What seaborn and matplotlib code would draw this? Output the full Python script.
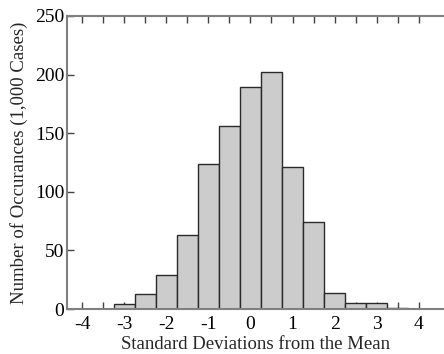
import numpy as np
import pandas as pd
import matplotlib
matplotlib.use("Agg")
import matplotlib.pyplot as plt
import seaborn as sns

# Histogram of 1,000 cases, binned in half standard deviations
bin_centers = [-3.0, -2.5, -2.0, -1.5, -1.0, -0.5, 0.0, 0.5, 1.0, 1.5, 2.0, 2.5, 3.0, 3.5]
counts = [4, 13, 29, 63, 124, 156, 189, 202, 121, 74, 14, 5, 5, 1]
x_tick_labels = ["-4", "-3", "-2", "-1", "0", "1", "2", "3", "4"]
y_tick_values = [0, 50, 100, 150, 200, 250]

df = pd.DataFrame({"sd": bin_centers, "n": counts})

sns.set_style("white")
plt.rcParams["font.family"] = ["Liberation Serif", "DejaVu Serif"]

fig = plt.figure(figsize=(4.44, 3.54), dpi=100)
ax = fig.add_axes([67 / 444, 45 / 354, 377 / 444, 293 / 354])

sns.histplot(data=df, x="sd", weights="n", binwidth=0.5, binrange=(-3.25, 3.75),
             color="#cccccc", edgecolor="#2a2a2a", linewidth=1.0, alpha=1.0, ax=ax)

ax.set_xlim(-4.36, 4.60)
ax.set_ylim(0, 250)

ax.set_xticks(np.arange(-4, 5, 1.0))
ax.set_xticklabels(x_tick_labels)
ax.set_xticks(np.arange(-4, 4.01, 0.5), minor=True)
ax.set_yticks(y_tick_values)
ax.set_yticklabels([str(v) for v in y_tick_values])

ax.tick_params(axis="both", which="both", direction="in", color="#444444",
               width=1.0, labelsize=14, labelcolor="black")
ax.tick_params(axis="x", which="major", length=5, pad=5, top=True, bottom=True)
ax.tick_params(axis="x", which="minor", length=5, top=True, bottom=True)
ax.tick_params(axis="y", which="major", length=5, pad=2, left=True, right=False)

for side in ["left", "top", "bottom"]:
    ax.spines[side].set_visible(True)
    ax.spines[side].set_color("#808080")
    ax.spines[side].set_linewidth(1.5)
ax.spines["right"].set_visible(False)

ax.set_xlabel("Standard Deviations from the Mean", fontsize=13.5)
ax.set_ylabel("Number of Occurances (1,000 Cases)", fontsize=13.5)
ax.xaxis.set_label_coords(0.5, -0.092)
ax.yaxis.set_label_coords(-0.104, 0.5)

fig.savefig("out.png", dpi=100)
